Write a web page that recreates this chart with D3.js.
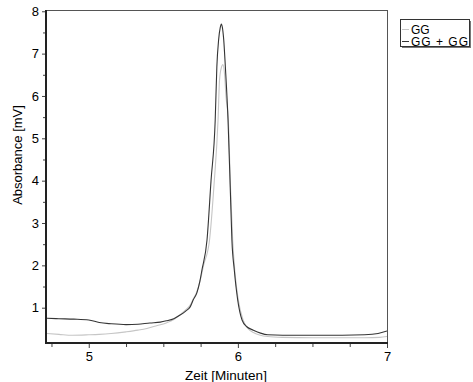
<!DOCTYPE html>
<html lang="de">
  <head>
    <meta charset="UTF-8" />
    <script src="https://d3js.org/d3.v7.min.js"></script>
    <title>Chromatogramm</title>
    <style>
      body { margin: 0; background: #fff; }
      svg { display: block; font-family: "Liberation Sans", Arial, sans-serif; }
      .axis text { font-size: 13px; fill: #000; }
      .axis line { stroke: #444; }
      .axis path { display: none; }
    </style>
  </head>
  <body>
    <svg width="473" height="382"></svg>
    <script>
      // GG (hell)
      var ggTime = [4.72, 4.8, 4.89, 5.0, 5.07, 5.15, 5.25, 5.33, 5.39, 5.45, 5.52, 5.57, 5.61, 5.65, 5.68, 5.70, 5.725, 5.75, 5.77, 5.81, 5.84, 5.867, 5.877, 5.89, 5.90, 5.911, 5.92, 5.936, 5.95, 5.965, 5.98, 6.003, 6.035, 6.07, 6.1, 6.15, 6.2, 6.3, 6.5, 6.7, 6.85, 6.95, 7.0];
      var ggAbs = [0.39, 0.37, 0.35, 0.36, 0.37, 0.39, 0.43, 0.47, 0.51, 0.57, 0.64, 0.72, 0.83, 0.95, 1.06, 1.2, 1.38, 1.68, 2.0, 2.6, 3.9, 5.43, 6.38, 6.68, 6.74, 6.5, 6.0, 5.43, 3.9, 2.6, 1.85, 1.18, 0.71, 0.5, 0.42, 0.35, 0.32, 0.3, 0.29, 0.29, 0.29, 0.3, 0.32];

      // GG + GG (dunkel)
      var gg2Time = [4.72, 4.8, 4.9, 5.0, 5.07, 5.15, 5.25, 5.33, 5.41, 5.48, 5.52, 5.57, 5.61, 5.65, 5.68, 5.70, 5.725, 5.745, 5.759, 5.793, 5.82, 5.848, 5.859, 5.871, 5.882, 5.889, 5.896, 5.905, 5.916, 5.934, 5.95, 5.96, 5.976, 5.999, 6.028, 6.06, 6.104, 6.152, 6.2, 6.3, 6.5, 6.7, 6.85, 6.94, 7.0];
      var gg2Abs = [0.75, 0.74, 0.73, 0.71, 0.65, 0.62, 0.6, 0.61, 0.64, 0.66, 0.69, 0.74, 0.82, 0.92, 1.02, 1.18, 1.35, 1.62, 1.89, 2.6, 4.0, 5.43, 6.69, 7.33, 7.62, 7.7, 7.62, 7.33, 6.69, 5.43, 3.7, 2.6, 1.89, 1.18, 0.71, 0.55, 0.47, 0.4, 0.36, 0.35, 0.35, 0.35, 0.36, 0.39, 0.45];

      var xTicks = [5, 6, 7];
      var xMinor = [4.75, 5.25, 5.5, 5.75, 6.25, 6.5, 6.75];
      var yTicks = [1, 2, 3, 4, 5, 6, 7, 8];
      var yMinor = [1.5, 2.5, 3.5, 4.5, 5.5, 6.5, 7.5];

      var seriesNames = ["GG", "GG + GG"];
      var seriesColors = ["#c6c6c6", "#353535"];

      var svg = d3.select("svg");
      var pLeft = 47, pRight = 387, pTop = 10, pBottom = 342;

      var x = d3.scaleLinear().domain([4.72, 7.0]).range([pLeft, pRight]);
      var y = d3.scaleLinear().domain([0.19, 8.03]).range([pBottom, pTop]);

      // rahmen oben/rechts
      svg.append("line")
        .attr("x1", pLeft).attr("x2", pRight)
        .attr("y1", pTop + 0.5).attr("y2", pTop + 0.5)
        .attr("stroke", "#555");
      svg.append("line")
        .attr("x1", pRight + 0.5).attr("x2", pRight + 0.5)
        .attr("y1", pTop).attr("y2", pBottom)
        .attr("stroke", "#555");

      var series = [
        { name: seriesNames[0], color: seriesColors[0], t: ggTime, v: ggAbs },
        { name: seriesNames[1], color: seriesColors[1], t: gg2Time, v: gg2Abs },
      ];

      var line = d3.line()
        .curve(d3.curveMonotoneX)
        .x(function (d) { return x(d[0]); })
        .y(function (d) { return y(d[1]); });

      svg.append("defs").append("clipPath").attr("id", "plot")
        .append("rect").attr("x", pLeft).attr("y", pTop)
        .attr("width", pRight - pLeft).attr("height", pBottom - pTop);

      svg.append("g").attr("clip-path", "url(#plot)")
        .selectAll("path")
        .data(series)
        .enter()
        .append("path")
        .attr("fill", "none")
        .attr("stroke", function (d) { return d.color; })
        .attr("stroke-width", 1.1)
        .attr("d", function (d) {
          return line(d.t.map(function (t, i) { return [t, d.v[i]]; }));
        });

      // achsen
      svg.append("g").attr("class", "axis")
        .attr("transform", "translate(0," + (pBottom + 1) + ")")
        .call(d3.axisBottom(x).tickValues(xMinor).tickSize(4).tickFormat(""));
      svg.append("g").attr("class", "axis")
        .attr("transform", "translate(0," + (pBottom + 1) + ")")
        .call(d3.axisBottom(x).tickValues(xTicks).tickSize(5).tickPadding(4).tickFormat(d3.format("d")));

      svg.append("g").attr("class", "axis")
        .attr("transform", "translate(" + (pLeft - 1) + ",0)")
        .call(d3.axisLeft(y).tickValues(yMinor).tickSize(3).tickFormat(""));
      svg.append("g").attr("class", "axis")
        .attr("transform", "translate(" + (pLeft - 1) + ",0)")
        .call(d3.axisLeft(y).tickValues(yTicks).tickSize(4).tickPadding(3).tickFormat(d3.format("d")));

      svg.append("line")
        .attr("x1", pLeft - 1).attr("x2", pRight + 1)
        .attr("y1", pBottom + 1).attr("y2", pBottom + 1)
        .attr("stroke", "#222").attr("stroke-width", 2);
      svg.append("line")
        .attr("x1", pLeft - 1).attr("x2", pLeft - 1)
        .attr("y1", pTop).attr("y2", pBottom + 2)
        .attr("stroke", "#222").attr("stroke-width", 2);

      svg.append("text")
        .attr("x", 226)
        .attr("y", 380)
        .attr("text-anchor", "middle")
        .attr("font-size", 13.5)
        .text("Zeit [Minuten]");

      svg.append("text")
        .attr("transform", "translate(22," + 155 + ") rotate(-90)")
        .attr("text-anchor", "middle")
        .attr("font-size", 13)
        .text("Absorbance [mV]");

      // legende
      var lg = svg.append("g");
      lg.append("rect")
        .attr("x", 402).attr("y", 21).attr("width", 69).attr("height", 27)
        .attr("fill", "#777");
      lg.append("rect")
        .attr("x", 400.5).attr("y", 19.5).attr("width", 69).attr("height", 27)
        .attr("fill", "#fff").attr("stroke", "#333");

      var item = lg.selectAll("g.item")
        .data(series)
        .enter()
        .append("g")
        .attr("class", "item")
        .attr("transform", function (d, i) { return "translate(0," + (i * 12) + ")"; });
      item.append("line")
        .attr("x1", 402).attr("x2", 409)
        .attr("y1", 29.5).attr("y2", 29.5)
        .attr("stroke", function (d) { return d.color; });
      item.append("text")
        .attr("x", 411).attr("y", 33.5)
        .attr("font-size", 12)
        .attr("textLength", function (d, i) { return i ? 57 : null; })
        .text(function (d) { return d.name; });
    </script>
  </body>
</html>
